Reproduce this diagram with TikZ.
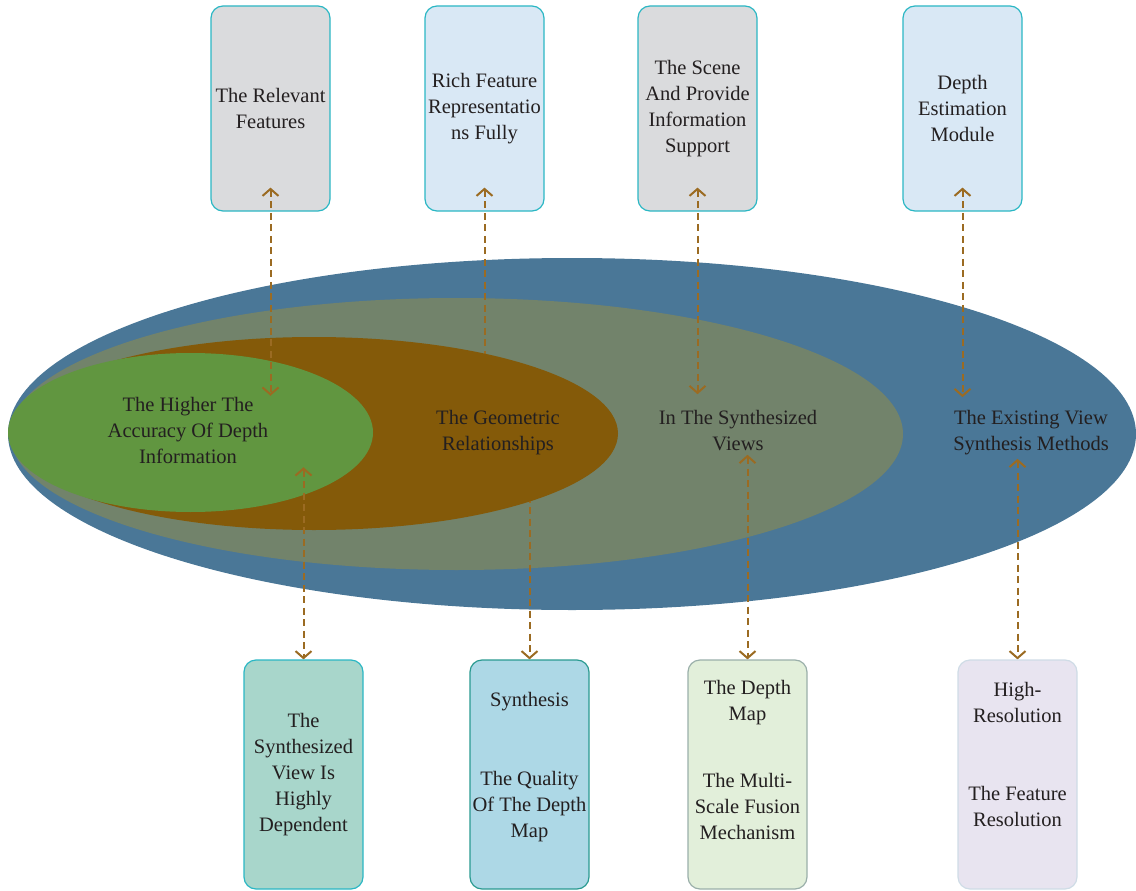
\documentclass[tikz,border=0pt]{standalone}
\usepackage{fontspec}
\setmainfont{Liberation Serif}
\usetikzlibrary{shapes.geometric,arrows.meta}
\definecolor{OuterBlue}{HTML}{4A7797}
\definecolor{SceneOlive}{HTML}{72836B}
\definecolor{GeoBrown}{HTML}{845A09}
\definecolor{DepthGreen}{HTML}{619640}
\definecolor{BoxGrey}{HTML}{DADBDD}
\definecolor{BoxSky}{HTML}{D9E8F5}
\definecolor{BoxEdge}{HTML}{2BB7C4}
\definecolor{BoxMint}{HTML}{A8D6CB}
\definecolor{BoxAqua}{HTML}{ADD8E6}
\definecolor{AquaEdge}{HTML}{2A9A90}
\definecolor{BoxPale}{HTML}{E2EFDA}
\definecolor{PaleEdge}{HTML}{9AAFAA}
\definecolor{BoxLilac}{HTML}{E8E4F0}
\definecolor{LilacEdge}{HTML}{CFDCE6}
\definecolor{LinkGold}{HTML}{9B6B22}
\definecolor{InkDark}{HTML}{231F20}
\pgfdeclarelayer{back}
\pgfdeclarelayer{mid}
\pgfdeclarelayer{front}
\pgfsetlayers{back,mid,main,front}

\begin{document}
\begin{tikzpicture}[x=1pt,y=-1pt,
    every node/.style={font=\fontsize{20.5}{26}\selectfont, text=InkDark, align=center},
    blob/.style={ellipse, inner sep=0pt, draw=none},
    card/.style={rounded corners=12pt, line width=1.2pt, minimum width=119pt,
      inner sep=0pt},
    link/.style={draw=LinkGold, line width=2pt, dash pattern=on 7pt off 4.5pt,
      {Straight Barb[length=7pt,width=16pt]}-{Straight Barb[length=7pt,width=16pt]}}
  ]
  \useasboundingbox (0,0) rectangle (1136,891);

  % nested ellipses and top cards
  \begin{pgfonlayer}{back}
    \node[blob, fill=OuterBlue, minimum width=1128pt, minimum height=352pt] (outer) at (572,434) {};
    \node[blob, fill=SceneOlive, minimum width=893pt, minimum height=272pt] (scene) at (456.5,434) {};
    \node[card, minimum height=205pt, fill=BoxGrey, draw=BoxEdge] (top1) at (270.5,108.5) {The Relevant\\Features};
    \node[card, minimum height=205pt, fill=BoxSky, draw=BoxEdge] (top2) at (484.5,108.5) {Rich Feature\\Representatio\\ns Fully};
    \node[card, minimum height=205pt, fill=BoxGrey, draw=BoxEdge] (top3) at (697.5,108.5) {The Scene\\And Provide\\Information\\Support};
    \node[card, minimum height=205pt, fill=BoxSky, draw=BoxEdge] (top4) at (962.5,108.5) {Depth\\Estimation\\Module};
  \end{pgfonlayer}
  \node[blob, fill=GeoBrown, minimum width=608pt, minimum height=193pt] (geo) at (314,433.5) {};
  \node[blob, fill=DepthGreen, minimum width=365pt, minimum height=159pt] (depth) at (190.5,432.5) {};

  \node (lgreen) at (188,430.5) {The Higher The\\Accuracy Of Depth\\Information};
  \node (lbrown) at (498,433) {The Geometric\\Relationships};
  \node (lolive) at (738,431) {In The Synthesized\\Views};
  \node (louter) at (1031,433) {The Existing View\\Synthesis Methods};

  % bottom cards
  \begin{pgfonlayer}{front}
    \node[card, minimum height=229pt, fill=BoxMint, draw=BoxEdge] (bot1) at (303.5,774.5) {The\\Synthesized\\View Is\\Highly\\Dependent};
    \node[card, minimum height=229pt, fill=BoxAqua, draw=AquaEdge] (bot2) at (529.5,774.5) {};
    \node (bot2a) at (529.5,702) {Synthesis};
    \node (bot2b) at (529.5,806.5) {The Quality\\Of The Depth\\Map};
    \node[card, minimum height=229pt, fill=BoxPale, draw=PaleEdge] (bot3) at (747.5,774.5) {};
    \node (bot3a) at (747.5,702.5) {The Depth\\Map};
    \node (bot3b) at (747.5,806.5) {The Multi-\\Scale Fusion\\Mechanism};
    \node[card, minimum height=229pt, fill=BoxLilac, draw=LilacEdge] (bot4) at (1017.5,774.5) {};
    \node (bot4a) at (1017.5,702.5) {High-\\Resolution};
    \node (bot4b) at (1017.5,806.5) {The Feature\\Resolution};
  \end{pgfonlayer}

  % dashed links
  \begin{pgfonlayer}{mid}
    \draw[link] ([yshift=24pt]top2.south) -- (top2.south |- lbrown.north);
    \draw[link] (bot2.north |- lbrown.south) -- (bot2.north);
  \end{pgfonlayer}
  \draw[link] ([yshift=24pt]top1.south) -- ([yshift=-2pt]top1.south |- lgreen.north);
  \draw[link] ([yshift=24pt]top3.south) -- ([yshift=13pt]top3.south |- lolive.north);
  \draw[link] ([yshift=24pt]top4.south) -- ([yshift=10pt]top4.south |- louter.north);
  \draw[link] (bot1.north |- lgreen.south) -- (bot1.north);
  \draw[link] (bot3.north |- lolive.south) -- (bot3.north);
  \draw[link] (bot4.north |- louter.south) -- (bot4.north);
\end{tikzpicture}
\end{document}
